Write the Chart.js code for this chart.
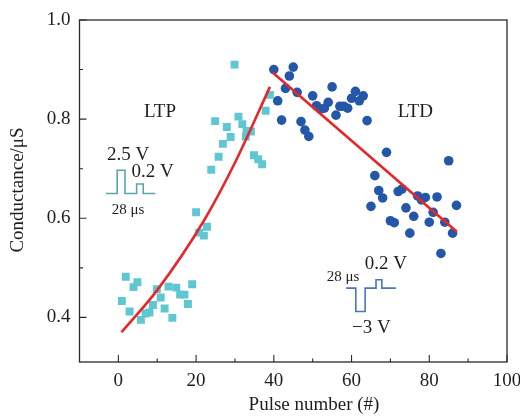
<!DOCTYPE html>
<html>
<head>
<meta charset="utf-8">
<script src="https://cdn.jsdelivr.net/npm/chart.js@4.4.1/dist/chart.umd.min.js"></script>
<style>
  html, body { margin: 0; padding: 0; background: #fff; }
  #wrap { width: 520px; height: 417px; }
</style>
</head>
<body>
<div id="wrap"><canvas id="chart" width="520" height="417"></canvas></div>
<script>
// potentiation (LTP) measurements
const ltpPulse = [0.9, 1.9, 2.9, 3.9, 4.9, 5.8, 7.0, 8.0, 8.9, 9.9, 10.9, 11.9, 12.9, 13.9, 14.9, 15.9,
  17.0, 17.9, 19.0, 20.0, 20.8, 22.0, 22.8, 23.9, 24.9, 25.8, 26.9, 27.9, 28.9, 29.9, 30.9, 31.9,
  32.8, 33.0, 34.1, 34.9, 36.0, 37.0, 37.9, 39.0];
const ltpConductance = [0.433, 0.482, 0.412, 0.461, 0.471, 0.395, 0.408, 0.410, 0.425, 0.457, 0.440,
  0.418, 0.462, 0.399, 0.460, 0.446, 0.446, 0.427, 0.467, 0.612, 0.571, 0.565, 0.583, 0.698, 0.796,
  0.724, 0.750, 0.784, 0.764, 0.910, 0.805, 0.790, 0.765, 0.776, 0.775, 0.727, 0.719, 0.709, 0.817, 0.849];

// depression (LTD) measurements
const ltdPulse = [40, 41, 42, 43, 44, 45, 46, 47, 48, 49, 50, 51, 52, 53, 54, 55, 56, 57, 58, 59, 60, 61,
  62, 63, 64, 65, 66, 67, 68, 69, 70, 71, 72, 73, 74, 75, 76, 77, 78, 79, 80, 81, 82, 83, 84, 85, 86, 87];
const ltdConductance = [0.900, 0.837, 0.798, 0.862, 0.887, 0.905, 0.854, 0.795, 0.778, 0.765, 0.847,
  0.827, 0.820, 0.822, 0.834, 0.865, 0.808, 0.826, 0.826, 0.822, 0.842, 0.856, 0.837, 0.847, 0.797,
  0.624, 0.686, 0.656, 0.641, 0.733, 0.595, 0.591, 0.654, 0.659, 0.621, 0.570, 0.604, 0.645, 0.637,
  0.642, 0.592, 0.612, 0.643, 0.529, 0.592, 0.716, 0.570, 0.626];

// fitted curves
const ltpFitPulse = [0.8, 10, 22, 30, 39];
const ltpFitConductance = [0.370, 0.455, 0.595, 0.712, 0.865];
const ltdFitPulse = [39.7, 87.1];
const ltdFitConductance = [0.894, 0.573];

// pulse waveform sketches (axis units)
const setPulseX = [-3.2, -0.3, -0.3, 1.7, 1.7, 4.7, 4.7, 6.4, 6.4, 9.5];
const setPulseY = [0.650, 0.650, 0.697, 0.697, 0.650, 0.650, 0.669, 0.669, 0.650, 0.650];
const resetPulseX = [58.6, 61.1, 61.1, 63.5, 63.5, 66.3, 66.3, 67.8, 67.8, 71.4];
const resetPulseY = [0.459, 0.459, 0.412, 0.412, 0.459, 0.459, 0.476, 0.476, 0.459, 0.459];

// axis ticks
const xTickLabels = [0, 20, 40, 60, 80, 100];
const xMinorTicks = [10, 30, 50, 70, 90];
const yTickLabels = [0.4, 0.6, 0.8, 1.0];
const yMinorTicks = [0.5, 0.7, 0.9];

const SERIF = '"Liberation Serif", "Times New Roman", serif';
const INK = '#1e1e1e';

const pts = (xs, ys) => xs.map((x, i) => ({ x, y: ys[i] }));

// box around the plot and inward tick marks
const frameTicks = {
  id: 'frameTicks',
  afterDraw(chart) {
    const { ctx, chartArea: a, scales: { x, y } } = chart;
    ctx.save();
    ctx.strokeStyle = '#2a2a2a';
    ctx.lineWidth = 1.3;
    ctx.strokeRect(a.left, a.top, a.right - a.left, a.bottom - a.top);
    ctx.lineWidth = 1.1;
    ctx.beginPath();
    const xt = (v, len) => { const p = x.getPixelForValue(v); ctx.moveTo(p, a.bottom); ctx.lineTo(p, a.bottom - len); };
    const yt = (v, len) => { const p = y.getPixelForValue(v); ctx.moveTo(a.left, p); ctx.lineTo(a.left + len, p); };
    xTickLabels.forEach(v => xt(v, 7));
    xMinorTicks.forEach(v => xt(v, 3.5));
    yTickLabels.forEach(v => yt(v, 7));
    yMinorTicks.forEach(v => yt(v, 3.5));
    ctx.stroke();

    // axis titles
    ctx.fillStyle = INK;
    ctx.font = '19px ' + SERIF;
    ctx.textAlign = 'center';
    ctx.textBaseline = 'middle';
    ctx.fillText('Pulse number (#)', 314, 405);
    ctx.translate(18, 190);
    ctx.rotate(-Math.PI / 2);
    ctx.fillText('Conductance/\u03bcS', 0, 0);
    ctx.restore();
  }
};

// in-plot labels
const notes = {
  id: 'notes',
  afterDatasetsDraw(chart) {
    const { ctx, scales: { x, y } } = chart;
    const put = (text, xv, yv, size, align) => {
      ctx.font = size + 'px ' + SERIF;
      ctx.textAlign = align;
      ctx.fillText(text, x.getPixelForValue(xv), y.getPixelForValue(yv));
    };
    ctx.save();
    ctx.fillStyle = INK;
    ctx.textBaseline = 'middle';
    put('LTP', 10.7, 0.814, 19, 'center');
    put('LTD', 76.4, 0.814, 19, 'center');
    put('2.5 V', -2.9, 0.728, 19, 'left');
    put('0.2 V', 3.4, 0.694, 19, 'left');
    put('28 \u03bcs', -1.7, 0.617, 15, 'left');
    put('28 \u03bcs', 53.6, 0.482, 15, 'left');
    put('0.2 V', 63.4, 0.508, 19, 'left');
    put('\u22123 V', 60.1, 0.378, 19, 'left');
    ctx.restore();
  }
};

new Chart(document.getElementById('chart'), {
  type: 'scatter',
  data: {
    datasets: [
      {
        type: 'line', data: pts(ltpFitPulse, ltpFitConductance),
        borderColor: '#e8262a', borderWidth: 2.6, pointRadius: 0,
        cubicInterpolationMode: 'monotone', fill: false
      },
      {
        type: 'line', data: pts(ltdFitPulse, ltdFitConductance),
        borderColor: '#e8262a', borderWidth: 2.6, pointRadius: 0, fill: false
      },
      {
        type: 'line', data: pts(setPulseX, setPulseY),
        borderColor: '#5aa6ae', borderWidth: 1.6, pointRadius: 0, tension: 0, fill: false
      },
      {
        type: 'line', data: pts(resetPulseX, resetPulseY),
        borderColor: '#4a74c0', borderWidth: 1.6, pointRadius: 0, tension: 0, fill: false
      },
      {
        data: pts(ltpPulse, ltpConductance),
        pointStyle: 'rect', pointRadius: 5.6, pointBorderWidth: 0,
        backgroundColor: '#5ec7d2'
      },
      {
        data: pts(ltdPulse, ltdConductance),
        pointStyle: 'circle', pointRadius: 4.8, pointBorderWidth: 0,
        backgroundColor: '#2457a8'
      }
    ]
  },
  options: {
    responsive: false,
    animation: false,
    devicePixelRatio: 1,
    layout: { padding: { left: 0, right: 13, top: 20, bottom: 0 } },
    plugins: { legend: { display: false }, tooltip: { enabled: false } },
    scales: {
      x: {
        type: 'linear', min: -10, max: 100,
        afterBuildTicks: s => { s.ticks = xTickLabels.map(v => ({ value: v })); },
        afterFit: s => { s.height = 55; s.paddingLeft = 0; s.paddingRight = 0; },
        grid: { display: false, drawTicks: false },
        border: { display: false },
        ticks: { font: { family: SERIF, size: 19 }, color: INK, padding: 8, maxRotation: 0, callback: v => String(v) }
      },
      y: {
        type: 'linear', min: 0.31, max: 1.0,
        afterBuildTicks: s => { s.ticks = yTickLabels.map(v => ({ value: v })); },
        afterFit: s => { s.width = 79.5; s.paddingTop = 0; s.paddingBottom = 0; },
        grid: { display: false, drawTicks: false },
        border: { display: false },
        ticks: { font: { family: SERIF, size: 19 }, color: INK, padding: 9, callback: v => v.toFixed(1) }
      }
    }
  },
  plugins: [frameTicks, notes]
});
</script>
</body>
</html>
